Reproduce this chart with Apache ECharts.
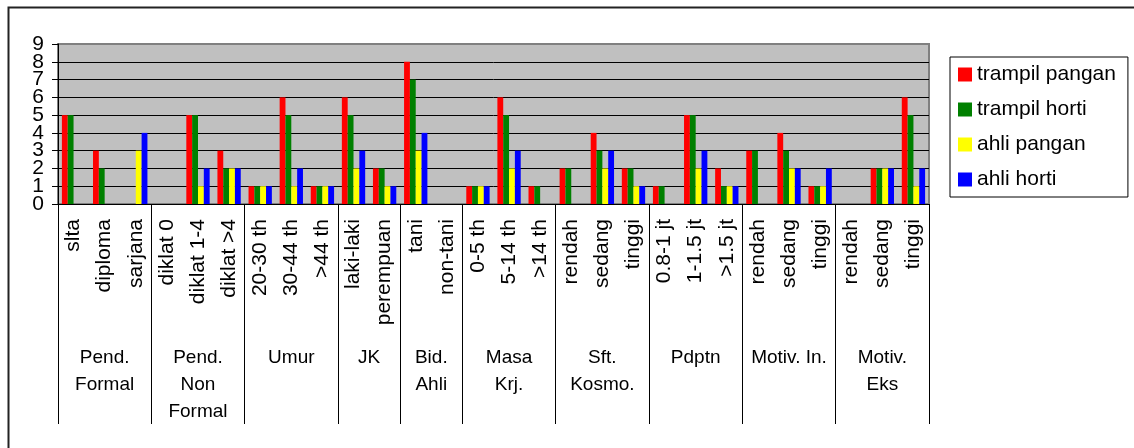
<!DOCTYPE html>
<html>
<head>
<meta charset="utf-8">
<script src="https://cdn.jsdelivr.net/npm/echarts@6/dist/echarts.min.js"></script>
<style>
    html, body { margin: 0; padding: 0; background: #fff; }
    #chart { width: 1134px; height: 448px; }
</style>
</head>
<body>
<div id="chart"></div>
<script>
let chart = echarts.init(document.getElementById('chart'));

const categories = ['slta', 'diploma', 'sarjana', 'diklat 0', 'diklat 1-4', 'diklat >4',
    '20-30 th', '30-44 th', '>44 th', 'laki-laki', 'perempuan', 'tani', 'non-tani',
    '0-5 th', '5-14 th', '>14 th', 'rendah', 'sedang', 'tinggi',
    '0.8-1 jt', '1-1.5 jt', '>1.5 jt', 'rendah', 'sedang', 'tinggi',
    'rendah', 'sedang', 'tinggi'];

const groupNames = ['Pend.\nFormal', 'Pend.\nNon\nFormal', 'Umur', 'JK', 'Bid.\nAhli',
    'Masa\nKrj.', 'Sft.\nKosmo.', 'Pdptn', 'Motiv. In.', 'Motiv.\nEks'];
const groupSizes = [3, 3, 3, 2, 2, 3, 3, 3, 3, 3];

const yTickLabels = ['0', '1', '2', '3', '4', '5', '6', '7', '8', '9'];

const seriesNames = ['trampil pangan', 'trampil horti', 'ahli pangan', 'ahli horti'];
const trampilPangan = [5, 3, 0, 0, 5, 3, 1, 6, 1, 6, 2, 8, 0, 1, 6, 1, 2, 4, 2, 1, 5, 2, 3, 4, 1, 0, 2, 6];
const trampilHorti  = [5, 2, 0, 0, 5, 2, 1, 5, 1, 5, 2, 7, 0, 1, 5, 1, 2, 3, 2, 1, 5, 1, 3, 3, 1, 0, 2, 5];
const ahliPangan    = [0, 0, 3, 0, 1, 2, 1, 1, 1, 2, 1, 3, 0, 1, 2, 0, 0, 2, 1, 0, 2, 1, 0, 2, 1, 0, 2, 1];
const ahliHorti     = [0, 0, 4, 0, 2, 2, 1, 2, 1, 3, 1, 4, 0, 1, 3, 0, 0, 3, 1, 0, 3, 1, 0, 2, 2, 0, 2, 2];
const colors = ['#ff0000', '#008000', '#ffff00', '#0000ff'];

// group boundaries and centres on a 0..28 value scale
let groupBounds = [0];
let groupCenters = [];
groupSizes.forEach(size => {
    let start = groupBounds[groupBounds.length - 1];
    groupCenters.push(start + size / 2);
    groupBounds.push(start + size);
});

const font = 'Liberation Sans, Arial, sans-serif';
const allValues = [trampilPangan, trampilHorti, ahliPangan, ahliHorti];

let options = {
    backgroundColor: '#fff',
    animation: false,
    textStyle: { fontFamily: font, color: '#000' },
    grid: {
        left: 58, top: 44, right: 205, bottom: 244,
        show: true,
        backgroundColor: '#c0c0c0',
        borderColor: '#808080',
        borderWidth: 2
    },
    legend: {
        orient: 'vertical',
        left: 950,
        top: 57,
        icon: 'rect',
        itemWidth: 14,
        itemHeight: 14,
        itemGap: 14,
        itemTextGap: 5,
        padding: [7, 12, 7, 8],
        borderColor: '#000',
        borderWidth: 1,
        textStyle: { fontSize: 21, lineHeight: 20, color: '#000', fontFamily: font },
        data: seriesNames
    },
    xAxis: [{
        type: 'category',
        data: categories,
        position: 'bottom',
        axisLine: { lineStyle: { color: '#000', width: 1 } },
        axisTick: { interval: 0, length: 123, lineStyle: { color: '#000' } },
        axisLabel: {
            interval: 0, rotate: 90, margin: 15,
            fontSize: 21, color: '#000', fontFamily: font
        }
    }, {
        type: 'value',
        min: 0,
        max: groupBounds[groupBounds.length - 1],
        position: 'bottom',
        offset: 0,
        axisLine: { show: false },
        splitLine: { show: false },
        axisTick: { customValues: groupBounds, length: 220, lineStyle: { color: '#000' } },
        axisLabel: {
            customValues: groupCenters,
            formatter: function (v) {
                return groupNames[groupCenters.indexOf(v)];
            },
            margin: 140,
            fontSize: 19,
            lineHeight: 27,
            color: '#000',
            fontFamily: font,
            align: 'center',
            verticalAlign: 'top'
        }
    }],
    yAxis: [{
        type: 'value',
        min: 0, max: 9, interval: 1,
        axisLine: { show: true, lineStyle: { color: '#000' } },
        axisTick: { show: true, length: 6, lineStyle: { color: '#000' } },
        axisLabel: { show: false },
        splitLine: {
            lineStyle: {
                color: ['#000', '#000', '#000', '#000', '#000', '#000', '#000', '#000', '#000', '#808080'],
                width: 1
            }
        }
    }, {
        // label-only axis so every tick label 0..9 stays visible
        type: 'category',
        data: yTickLabels,
        position: 'left',
        offset: 0,
        boundaryGap: false,
        axisLine: { show: false },
        axisTick: { show: false },
        splitLine: { show: false },
        axisLabel: { interval: 0, fontSize: 21, color: '#000', margin: 14, fontFamily: font }
    }],
    series: seriesNames.map((name, i) => ({
        name: name,
        type: 'bar',
        xAxisIndex: 0,
        yAxisIndex: 0,
        data: allValues[i],
        barGap: '0%',
        barCategoryGap: '25%',
        itemStyle: { color: colors[i] }
    })),
    graphic: [{
        type: 'rect',
        left: 6, top: 5,
        shape: { width: 1200, height: 500 },
        style: { fill: 'none', stroke: '#222', lineWidth: 2 },
        silent: true
    }]
};
chart.setOption(options);
</script>
</body>
</html>
